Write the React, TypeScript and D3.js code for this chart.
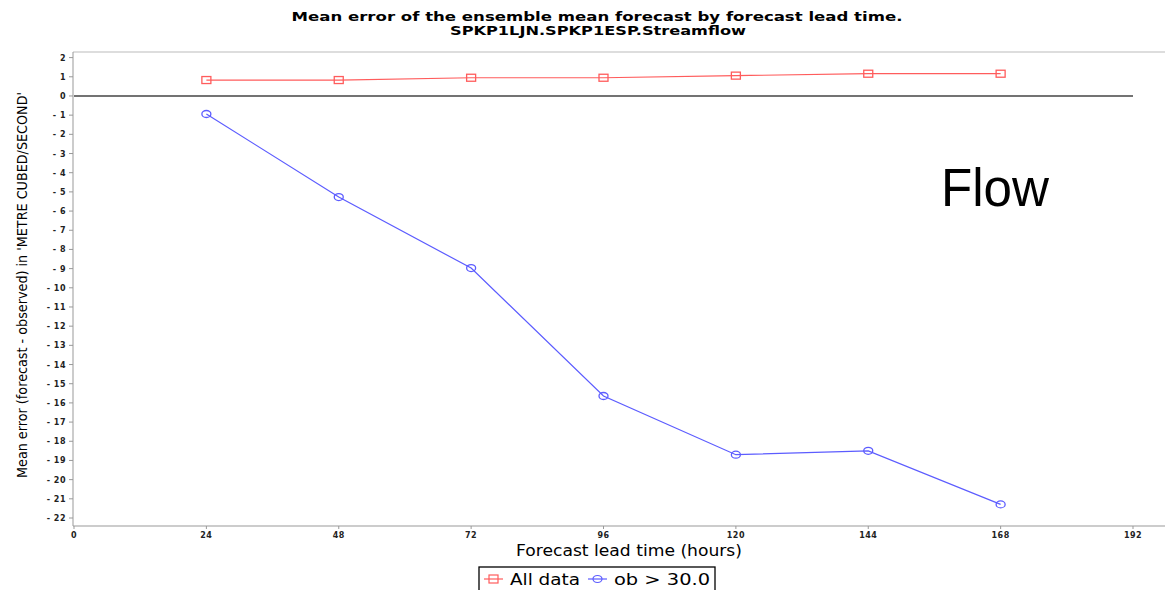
import React from "react";
import * as d3 from "d3";

const leadTimes = [24, 48, 72, 96, 120, 144, 168];
const allData = [0.83, 0.83, 0.95, 0.95, 1.06, 1.16, 1.16];
const obAbove30 = [-0.94, -5.27, -8.97, -15.64, -18.7, -18.5, -21.29];
const xTicks = [0, 24, 48, 72, 96, 120, 144, 168, 192];
const yTicks = d3.range(2, -23, -1);
const seriesNames = ["All data", "ob > 30.0"];
const titleLines = [
  "Mean error of the ensemble mean forecast by forecast lead time.",
  "SPKP1LJN.SPKP1ESP.Streamflow",
];
const xTitle = "Forecast lead time (hours)";
const yTitle = "Mean error (forecast - observed) in 'METRE CUBED/SECOND'";

const RED = "#ff5c5c";
const BLUE = "#5c5cff";

export default function App() {
  const x = d3.scaleLinear().domain([0, 192]).range([74, 1133]);
  const y = d3.scaleLinear().domain([2, -22]).range([57.6, 518]);
  const plotTop = 52;
  const plotBottom = 526;
  const plotLeft = 73;
  const line = d3
    .line<[number, number]>()
    .x((d) => x(d[0]))
    .y((d) => y(d[1]));
  const redPts: [number, number][] = leadTimes.map((t, i) => [t, allData[i]]);
  const bluePts: [number, number][] = leadTimes.map((t, i) => [t, obAbove30[i]]);
  const tickFont = { fontFamily: "DejaVu Sans", fontWeight: 700, fontSize: 8 } as const;

  return (
    <div style={{ position: "absolute", left: 0, top: 0 }}>
      <svg width={1165} height={590} style={{ display: "block", background: "#fff" }}>
        {/* title */}
        <text x={597} y={21} textAnchor="middle" fontFamily="DejaVu Sans" fontWeight={700} fontSize={13} textLength={611} lengthAdjust="spacingAndGlyphs" fill="#000">
          {titleLines[0]}
        </text>
        <text x={598} y={35} textAnchor="middle" fontFamily="DejaVu Sans" fontWeight={700} fontSize={13} textLength={296} lengthAdjust="spacingAndGlyphs" fill="#000">
          {titleLines[1]}
        </text>

        {/* plot frame */}
        <line x1={plotLeft} x2={1165} y1={plotTop} y2={plotTop} stroke="#bbb" strokeWidth={1} />
        <line x1={plotLeft} x2={1165} y1={plotBottom} y2={plotBottom} stroke="#999" strokeWidth={1} />
        <line x1={plotLeft} x2={plotLeft} y1={plotTop} y2={plotBottom} stroke="#999" strokeWidth={1} />

        {/* y ticks */}
        {yTicks.map((v) => (
          <g key={"y" + v}>
            <line x1={plotLeft - 4} x2={plotLeft} y1={y(v)} y2={y(v)} stroke="#999" />
            <text x={plotLeft - 7} y={y(v) + 3} textAnchor="end" {...tickFont} letterSpacing={0.5} fill="#222">
              {v < 0 ? "- " + Math.abs(v) : String(v)}
            </text>
          </g>
        ))}

        {/* x ticks */}
        {xTicks.map((v) => (
          <g key={"x" + v}>
            <line x1={x(v)} x2={x(v)} y1={plotBottom} y2={plotBottom + 3} stroke="#999" />
            <text x={x(v)} y={538} textAnchor="middle" {...tickFont} letterSpacing={0.5} fill="#222">
              {v}
            </text>
          </g>
        ))}

        {/* zero line */}
        <line x1={x(0)} x2={x(192)} y1={y(0)} y2={y(0)} stroke="#444" strokeWidth={1.5} />

        {/* series */}
        <path d={line(redPts) ?? ""} fill="none" stroke={RED} strokeWidth={1.2} />
        {redPts.map((p, i) => (
          <rect key={"r" + i} x={x(p[0]) - 4.5} y={y(p[1]) - 3.5} width={9} height={7} fill="none" stroke={RED} strokeWidth={1.3} />
        ))}
        <path d={line(bluePts) ?? ""} fill="none" stroke={BLUE} strokeWidth={1.2} />
        {bluePts.map((p, i) => (
          <ellipse key={"b" + i} cx={x(p[0])} cy={y(p[1])} rx={4.5} ry={3.5} fill="none" stroke={BLUE} strokeWidth={1.3} />
        ))}

        {/* annotation */}
        <text x={941} y={206} fontFamily="Liberation Sans" fontSize={54} textLength={108} lengthAdjust="spacingAndGlyphs" fill="#000">
          Flow
        </text>

        {/* axis titles */}
        <text x={629} y={556} textAnchor="middle" fontFamily="DejaVu Sans" fontSize={15} textLength={226} lengthAdjust="spacingAndGlyphs" fill="#000">
          {xTitle}
        </text>
        <text transform="translate(27,285) rotate(-90)" textAnchor="middle" fontFamily="DejaVu Sans" fontSize={14.5} textLength={386} lengthAdjust="spacingAndGlyphs" fill="#000">
          {yTitle}
        </text>

        {/* legend */}
        <rect x={479} y={567} width={236} height={30} fill="#fff" stroke="#000" strokeWidth={1.3} />
        <line x1={484} x2={503} y1={579} y2={579} stroke={RED} strokeWidth={1.2} />
        <rect x={489} y={575} width={9} height={8} fill="none" stroke={RED} strokeWidth={1.2} />
        <text x={510} y={585} fontFamily="DejaVu Sans" fontSize={16} textLength={70} lengthAdjust="spacingAndGlyphs" fill="#000">
          {seriesNames[0]}
        </text>
        <line x1={588} x2={607} y1={579} y2={579} stroke={BLUE} strokeWidth={1.2} />
        <ellipse cx={597.5} cy={579} rx={4.5} ry={3.5} fill="none" stroke={BLUE} strokeWidth={1.2} />
        <text x={614} y={585} fontFamily="DejaVu Sans" fontSize={16} textLength={96} lengthAdjust="spacingAndGlyphs" fill="#000">
          {seriesNames[1]}
        </text>
      </svg>
    </div>
  );
}
